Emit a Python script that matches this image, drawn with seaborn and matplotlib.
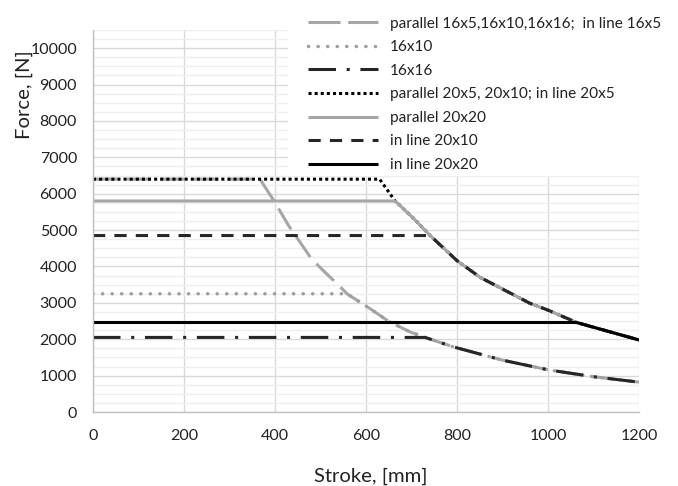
import matplotlib
matplotlib.use("Agg")
import matplotlib.pyplot as plt
import seaborn as sns
import numpy as np
import pandas as pd
from matplotlib.patches import Rectangle
from matplotlib.ticker import MultipleLocator

# ---- data ----
# shared buckling curve for the 16 mm screws
curve16_x = [367, 400, 430, 450, 480, 505, 545, 558, 609, 650, 697, 730, 792, 900, 1000, 1100, 1200]
curve16_y = [6400, 5760, 5120, 4760, 4210, 3900, 3420, 3250, 2840, 2490, 2200, 2050, 1790, 1425, 1160, 970, 820]
# shared buckling curve for the 20 mm screws
curve20_x = [630, 664, 703, 741, 800, 851, 900, 960, 1000, 1063, 1100, 1200]
curve20_y = [6400, 5800, 5340, 4850, 4160, 3700, 3380, 2990, 2800, 2460, 2330, 1980]

labels = [
    "parallel 16x5,16x10,16x16;  in line 16x5",
    "16x10",
    "16x16",
    "parallel 20x5, 20x10; in line 20x5",
    "parallel 20x20",
    "in line 20x10",
    "in line 20x20",
]
plateau_force = [6400, 3250, 2050, 6400, 5800, 4850, 2460]
curve_group = [16, 16, 16, 20, 20, 20, 20]

x_ticks = [0, 200, 400, 600, 800, 1000, 1200]
y_ticks = [0, 1000, 2000, 3000, 4000, 5000, 6000, 7000, 8000, 9000, 10000]

# ---- styles ----
GRAY = "#a6a6a6"
DARK = "#262626"
BLACK = "#000000"
LW = 2.2
styles = [
    dict(color=GRAY, linestyle=(0, (8, 3)), lw=LW),
    dict(color="#9e9e9e", linestyle=(0, (0.05, 2.7)), dash_capstyle="round", lw=2.5),
    dict(color=DARK, linestyle=(0, (9, 3.5, 1, 3.5)), lw=LW),
    dict(color=BLACK, linestyle=(0, (1, 1)), lw=LW),
    dict(color=GRAY, linestyle="-", lw=LW),
    dict(color=DARK, linestyle=(0, (4, 3)), lw=LW),
    dict(color=BLACK, linestyle="-", lw=LW),
]


def build_series(force, group):
    cx = curve16_x if group == 16 else curve20_x
    cy = curve16_y if group == 16 else curve20_y
    xs, ys = [0], [force]
    for x, y in zip(cx, cy):
        if y <= force:
            if len(xs) == 1:
                xs.append(x)
                ys.append(force)
            xs.append(x)
            ys.append(y)
    pts = []
    for x, y in zip(xs, ys):
        if not pts or pts[-1][0] != x:
            pts.append((x, y))
    return pd.DataFrame(pts, columns=["stroke", "force"])


sns.set_theme(style="whitegrid")
plt.rcParams["font.family"] = ["Lato", "DejaVu Sans"]

fig = plt.figure(figsize=(6.78, 4.86), dpi=100)
ax = fig.add_axes([93 / 678, 1 - 412 / 486, 546 / 678, 382 / 486])
ax.set_axisbelow(True)

for lab, f, g, st in zip(labels, plateau_force, curve_group, styles):
    df = build_series(f, g)
    sns.lineplot(data=df, x="stroke", y="force", ax=ax, label=lab,
                 estimator=None, sort=False,
                 solid_joinstyle="round", solid_capstyle="butt", **st)

ax.set_xlim(0, 1200)
ax.set_ylim(0, 10500)
ax.set_xticks(x_ticks)
ax.set_yticks(y_ticks)
ax.yaxis.set_minor_locator(MultipleLocator(250))
ax.grid(which="major", axis="both", color="#d9d9d9", lw=1.0)
ax.grid(which="minor", axis="y", color="#eeeeee", lw=1.0)
ax.tick_params(axis="both", which="both", length=0, labelsize=11.5, colors="#222222")
ax.tick_params(axis="x", pad=12.5)
ax.tick_params(axis="y", pad=11.5)

for s in ["top", "right"]:
    ax.spines[s].set_visible(False)
for s in ["left", "bottom"]:
    ax.spines[s].set_color("#bfbfbf")
    ax.spines[s].set_linewidth(1.0)

ax.set_xlabel("Stroke, [mm]", fontsize=14.6, color="#222222")
ax.set_ylabel("Force, [N]", fontsize=14.6, color="#222222")
ax.xaxis.set_label_coords(0.509, -0.145)
ax.yaxis.set_label_coords(-0.11, 0.83)

# white area behind the legend (covers the grid, not the lines)
ax.add_patch(Rectangle((0.357, 0.618), 0.7, 0.5, transform=ax.transAxes,
                       facecolor="white", edgecolor="none", zorder=1, clip_on=True))

leg = ax.legend(loc="upper left", bbox_to_anchor=(300 / 678, 1 - 9 / 486),
                bbox_transform=fig.transFigure, frameon=False, borderpad=0,
                fontsize=11.1, handlelength=4.55, handletextpad=0.8,
                labelspacing=0.62)
for t in leg.get_texts():
    t.set_color("#222222")
# legend sample of the long-dash series shows two full dashes, as in the reference
leg.get_lines()[0].set_dashes((10.5, 2.5))

fig.savefig("out.png", dpi=100)
